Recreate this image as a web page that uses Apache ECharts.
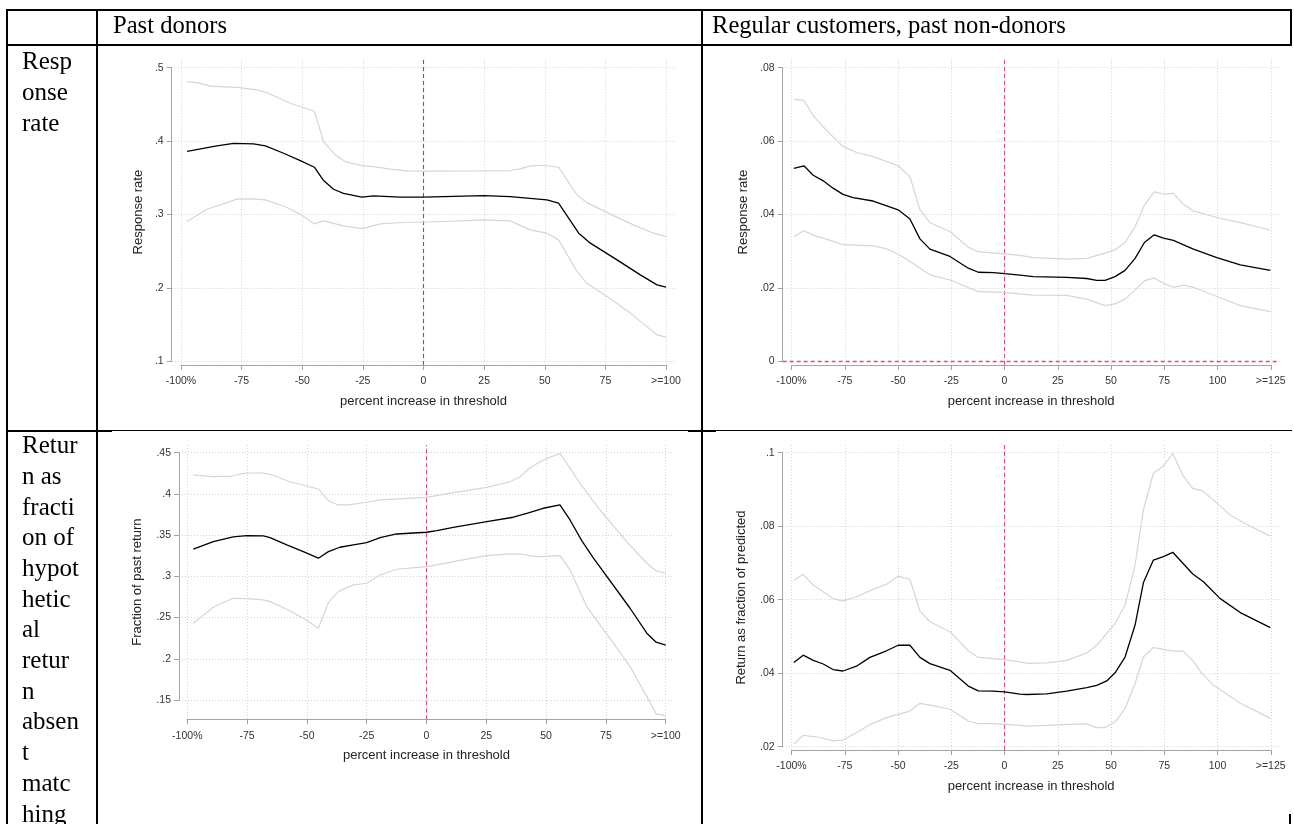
<!DOCTYPE html>
<html><head><meta charset="utf-8">
<script src="https://cdn.jsdelivr.net/npm/echarts@6/dist/echarts.min.js"></script>
<style>html,body{margin:0;padding:0;background:#fff}#c{width:1294px;height:824px}</style>
</head><body><div id="c"></div>
<script>
// ---------- DATA ----------
const colHeaders = ['Past donors', 'Regular customers, past non-donors'];
const rowLabel1 = ['Resp', 'onse', 'rate'];
const rowLabel2 = ['Retur', 'n as', 'fracti', 'on of', 'hypot', 'hetic', 'al', 'retur', 'n', 'absen', 't', 'matc', 'hing'];
const xTitle = 'percent increase in threshold';
const xTickLabels100 = ['-100%', '-75', '-50', '-25', '0', '25', '50', '75', '>=100'];
const xTickLabels125 = ['-100%', '-75', '-50', '-25', '0', '25', '50', '75', '100', '>=125'];
const yTickLabelsP1 = ['.1', '.2', '.3', '.4', '.5'];
const yTickLabelsP2 = ['0', '.02', '.04', '.06', '.08'];
const yTickLabelsP3 = ['.15', '.2', '.25', '.3', '.35', '.4', '.45'];
const yTickLabelsP4 = ['.02', '.04', '.06', '.08', '.1'];
const p2GridLevels = [.02, .04, .06, .08];

// Panel 1: past donors, response rate
const p1MidX = [-97.5,-85.2,-78.3,-70.1,-65.2,-57.7,-50.8,-45,-41.2,-37.1,-33,-25.4,-20.6,-9.6,0,24.8,35.8,50.9,55.7,64,68.8,79.8,89.4,96.3,100];
const p1MidY = [.386,.3935,.397,.3962,.3935,.3835,.3735,.3645,.3463,.3345,.329,.3237,.3254,.3237,.3237,.3259,.3245,.32,.3155,.2747,.2611,.2384,.218,.2044,.2012];
const p1HiX = [-97.5,-93.4,-87.9,-76.9,-68.7,-64.5,-54.9,-45,-41.2,-36.4,-32.2,-25.4,-20.6,-13.7,-6.8,0,24.8,35.8,39.9,44,49.5,55.7,63.3,67.4,75.7,86.6,94.9,100];
const p1HiY = [.481,.4796,.475,.4733,.4697,.466,.4516,.4407,.3993,.3812,.3721,.3667,.3653,.3618,.3595,.3593,.3595,.36,.3622,.3663,.3672,.3645,.3268,.3163,.3027,.286,.2747,.27];
const p1LoX = [-97.5,-89.3,-76.9,-70.1,-65.2,-56.3,-49.4,-45,-41.2,-33,-25.4,-17.8,-6.8,0,24.8,35.8,44,50.9,55.7,63.3,67.4,75.7,85.3,90.8,96.3,100];
const p1LoY = [.2905,.3073,.321,.3214,.32,.31,.2973,.2873,.2914,.2846,.2809,.2873,.2896,.2896,.2928,.2914,.2792,.2747,.2656,.2225,.2067,.1884,.1659,.1509,.1363,.1332];

// Panel 2: regular customers, response rate
const p2MidX = [-98.9,-94.2,-89.8,-85.1,-80.5,-75.8,-71.1,-61.7,-49.9,-44.4,-39.7,-35,-25.6,-17,-12.3,-5.3,0,7.3,13.5,29.2,38.6,43.3,47.2,51.9,56.6,61.3,65.7,70.3,74.6,79.3,88.7,99.7,110.7,124.8];
const p2MidY = [.0526,.0533,.0507,.0492,.0472,.0455,.0446,.0437,.0413,.0388,.0334,.0306,.0286,.0254,.0243,.0242,.0239,.0235,.0231,.0229,.0226,.0221,.0221,.0231,.0248,.0281,.0324,.0345,.0336,.0330,.0306,.0283,.0263,.0248];
const p2HiX = [-98.9,-94.2,-89.8,-83.6,-75.8,-69.5,-61.7,-49.9,-44.4,-39.7,-35,-25.6,-17,-12.3,0,7.3,13.5,29.2,38.6,47.2,51.9,56.6,61.3,65.7,70.3,74.6,79.3,84,88.7,99.7,110.7,124.8];
const p2HiY = [.0714,.0711,.0669,.0630,.0585,.0569,.0558,.0533,.0503,.0413,.0378,.0354,.0311,.0299,.0293,.0289,.0283,.0279,.0281,.0295,.0304,.0324,.0367,.0426,.0462,.0456,.0458,.0428,.0410,.0392,.0378,.0358];
const p2LoX = [-98.9,-94.2,-89,-85.1,-75.8,-61.7,-55.4,-49.9,-44.4,-35,-25.6,-12.3,0,7.3,13.5,29.2,38.6,47.2,51.9,56.6,61.3,65.7,70.3,74.6,79.3,84,88.7,99.7,110.7,124.8];
const p2LoY = [.034,.0356,.0342,.0336,.0318,.0315,.0307,.0292,.0272,.0236,.0222,.0190,.0188,.0184,.0181,.0180,.0170,.0152,.0157,.0170,.0195,.0220,.0227,.0213,.0202,.0208,.0202,.0177,.0152,.0136];

// Panel 3: past donors, fraction of past return
const p3MidX = [-97.5,-89.1,-80.8,-75.2,-68.2,-65.4,-58.4,-51.5,-45.2,-41,-36.2,-30.6,-25,-19.4,-12.5,0,4.3,11.2,25.2,36.3,41.9,48.8,55.8,60,64.9,69.8,85.1,92.1,96,100];
const p3MidY = [.3329,.3421,.3478,.3494,.349,.3469,.3381,.33,.322,.33,.3353,.3381,.3409,.3469,.3514,.3535,.3554,.3595,.3663,.3717,.3765,.3826,.3866,.3684,.3433,.322,.2613,.231,.2201,.2165];
const p3HiX = [-97.5,-89.1,-81,-76.6,-69.6,-65.4,-57.1,-51.5,-45.2,-41,-36.9,-32.7,-25,-19.4,0,11.2,25.2,34.9,39.1,43.3,48.8,55.8,64.2,72.5,83.7,92.1,96,100];
const p3HiY = [.423,.4209,.4217,.425,.4257,.4238,.4148,.4108,.406,.3918,.3866,.3866,.3899,.3927,.3957,.4015,.408,.4148,.4209,.4318,.4411,.4492,.4129,.3805,.3421,.3159,.3069,.3038];
const p3LoX = [-97.5,-89.1,-81,-75.2,-68.2,-65.4,-58.4,-51.5,-45.2,-41,-36.9,-30.6,-25,-19.4,-12.5,0,4.3,11.2,25.2,34.9,40.5,43.3,47.5,55.8,60,67,78.1,85.1,92.1,96,100];
const p3LoY = [.2431,.2625,.2734,.273,.2714,.2693,.2601,.2492,.2371,.2681,.2815,.2896,.2916,.3017,.3086,.3118,.3139,.3178,.3251,.3272,.3268,.3248,.3239,.3251,.3078,.2633,.2189,.1905,.1541,.1332,.1307];

// Panel 4: regular customers, return as fraction of predicted
const p4MidX = [-98.9,-94.5,-89.8,-85.1,-80.5,-75.8,-69.5,-63.2,-55.4,-49.9,-44.4,-39.7,-35,-25.6,-17,-12.3,-5.3,0,7.3,10.4,19.8,29.2,38.6,43.3,48,51.9,56.6,61.3,65.2,69.9,74.6,79,88.4,93.4,101.3,110.7,124.8];
const p4MidY = [.0429,.0449,.0435,.0425,.0410,.0406,.0419,.0443,.0461,.0476,.0476,.0443,.0426,.0408,.0365,.0352,.0351,.0349,.0343,.0342,.0344,.0351,.0361,.0367,.0379,.0401,.0444,.0531,.0646,.0708,.0717,.0729,.0670,.0649,.0603,.0565,.0524];
const p4HiX = [-98.9,-94.5,-89.8,-80.5,-75.8,-69.5,-61.7,-55.4,-49.9,-44.4,-39.7,-35,-25.6,-17,-12.3,0,7.3,10.4,19.8,29.2,38.6,43.3,51.9,56.6,61.3,65.2,69.9,74.6,79,83.7,88.4,92.7,98.2,106,115.4,124.8];
const p4HiY = [.0653,.0669,.0640,.0603,.0596,.0608,.0628,.0642,.0664,.0655,.0569,.054,.0513,.0461,.0443,.0437,.0431,.0427,.0428,.0435,.0455,.0476,.0535,.0585,.0694,.0844,.0944,.0964,.0998,.0939,.0903,.0897,.0871,.0830,.0800,.0773];
const p4LoX = [-98.9,-94.5,-86.7,-80.5,-75.8,-69.5,-63.2,-55.4,-49.9,-44.4,-39.7,-33.5,-25.6,-17,-12.3,-5.3,0,7.3,10.4,19.8,29.2,38.6,43.3,47.2,51.9,56.6,61.3,65.2,69.9,74.6,79,83.7,88.4,92.7,98.2,110.7,124.8];
const p4LoY = [.0207,.0231,.0225,.0216,.0218,.0238,.0260,.0279,.0288,.0297,.0318,.0312,.0302,.0270,.0263,.0263,.0261,.0258,.0256,.0258,.0261,.0262,.0252,.0252,.0267,.0304,.0372,.0444,.0470,.0465,.0460,.0460,.0435,.0399,.0367,.0318,.0277];

// ---------- LAYOUT / STYLE ----------
const SANS = '"Liberation Sans", Arial, sans-serif';
const SERIF = '"Liberation Serif", "Times New Roman", serif';
const AXIS_COLOR = '#a3a3a3';
const GRID_COLOR = '#d2d2d2';
const CI_COLOR = '#d6d6d6';
const PINK = '#e4478f';

const panels = [
  { xL:181, xR:666, yAxisX:171.7, gRight:674, tTop:67.7, tBot:361.5, pTop:59.3, axisY:370,
    xMax:100, yMin:.1, yMax:.5, yInt:.1, xLabels:xTickLabels100, yLabels:yTickLabelsP1,
    yName:'Response rate', yNameGap:35.8, zeroColor:'#9c4a6c', hZero:false,
    mid:[p1MidX,p1MidY], hi:[p1HiX,p1HiY], lo:[p1LoX,p1LoY] },
  { xL:791.5, xR:1270.75, yAxisX:782.7, gRight:1280, tTop:67.7, tBot:361.5, pTop:59.3, axisY:370,
    xMax:125, yMin:0, yMax:.08, yInt:.02, xLabels:xTickLabels125, yLabels:yTickLabelsP2,
    yName:'Response rate', yNameGap:41.3, zeroColor:PINK, hZero:true,
    mid:[p2MidX,p2MidY], hi:[p2HiX,p2HiY], lo:[p2LoX,p2LoY] },
  { xL:187.3, xR:665.7, yAxisX:179, gRight:674, tTop:452.7, tBot:700, pTop:445, axisY:724.3,
    xMax:100, yMin:.15, yMax:.45, yInt:.05, xLabels:xTickLabels100, yLabels:yTickLabelsP3,
    yName:'Fraction of past return', yNameGap:43.6, zeroColor:PINK, hZero:false,
    mid:[p3MidX,p3MidY], hi:[p3HiX,p3HiY], lo:[p3LoX,p3LoY] },
  { xL:791.5, xR:1270.75, yAxisX:782.7, gRight:1279.3, tTop:452.7, tBot:746.7, pTop:445, axisY:755,
    xMax:125, yMin:.02, yMax:.1, yInt:.02, xLabels:xTickLabels125, yLabels:yTickLabelsP4,
    yName:'Return as fraction of predicted', yNameGap:44, zeroColor:PINK, hZero:false,
    mid:[p4MidX,p4MidY], hi:[p4HiX,p4HiY], lo:[p4LoX,p4LoY] }
];

const grids = [], xAxes = [], yAxes = [], series = [];
const zip = (xs, ys) => xs.map((x, i) => [x, ys[i]]);
const AXIS_OFFSET = 5;

panels.forEach(P => {
  const xMin = -100, xInt = 25;
  // grid X (plot region with x axis and vertical grid lines)
  const gX = grids.length;
  grids.push({ left:P.xL, top:P.pTop, width:P.xR - P.xL, height:(P.axisY - AXIS_OFFSET) - P.pTop, outerBoundsMode:'none' });
  xAxes.push({ gridIndex:gX, type:'value', min:xMin, max:P.xMax, interval:xInt, offset:AXIS_OFFSET,
    axisLine:{ show:true, lineStyle:{ color:AXIS_COLOR, width:1 } },
    axisTick:{ show:true, length:5, lineStyle:{ color:AXIS_COLOR, width:1 } },
    axisLabel:{ show:true, margin:6, fontSize:10.5, color:'#333', fontFamily:SANS,
      formatter:v => P.xLabels[Math.round((v - xMin) / xInt)] },
    splitLine:{ show:true, lineStyle:{ color:GRID_COLOR, width:1, type:[1, 2] } },
    name:xTitle, nameLocation:'middle', nameGap:25,
    nameTextStyle:{ fontSize:13, color:'#222', fontFamily:SANS } });
  yAxes.push({ gridIndex:gX, type:'value', min:0, max:1, show:true,
    axisLine:{ show:false }, axisTick:{ show:false }, axisLabel:{ show:false }, splitLine:{ show:false },
    name:P.yName, nameLocation:'middle', nameGap:P.yNameGap,
    nameTextStyle:{ fontSize:13, color:'#222', fontFamily:SANS } });
  // vertical zero line
  series.push({ type:'line', xAxisIndex:gX, yAxisIndex:gX, data:[[0,0],[0,1]], symbol:'none', silent:true, clip:false,
    lineStyle:{ color:P.zeroColor, width:1.1, type:[4,3] }, z:3, animation:false });

  // grid Y (tick range, y axis + horizontal grid lines)
  const gY = grids.length;
  grids.push({ left:P.yAxisX, top:P.tTop, width:P.gRight - P.yAxisX, height:P.tBot - P.tTop, outerBoundsMode:'none' });
  xAxes.push({ gridIndex:gY, type:'value', min:0, max:1, show:false });
  yAxes.push({ gridIndex:gY, type:'value', min:P.yMin, max:P.yMax, interval:P.yInt,
    axisLine:{ show:true, lineStyle:{ color:AXIS_COLOR, width:1 } },
    axisTick:{ show:true, length:5, lineStyle:{ color:AXIS_COLOR, width:1 } },
    axisLabel:{ show:true, margin:8, fontSize:10.5, color:'#333', fontFamily:SANS,
      formatter:v => P.yLabels[Math.round((v - P.yMin) / P.yInt)] },
    splitLine:{ show:!P.hZero, lineStyle:{ color:GRID_COLOR, width:1, type:[1, 2] } } });
  if (P.hZero) {
    // horizontal grid lines except at zero, plus the dashed pink zero line
    series.push({ type:'line', xAxisIndex:gY, yAxisIndex:gY, data:[], symbol:'none', silent:true,
      markLine:{ silent:true, symbol:['none','none'], label:{ show:false }, animation:false,
        lineStyle:{ color:GRID_COLOR, width:1, type:[1, 2] },
        data:p2GridLevels.map(v => ({ yAxis:v })) }, z:1, animation:false });
    series.push({ type:'line', xAxisIndex:gY, yAxisIndex:gY, data:[], symbol:'none', silent:true,
      markLine:{ silent:true, symbol:['none','none'], label:{ show:false }, animation:false,
        lineStyle:{ color:P.zeroColor, width:1.3, type:[4, 3] },
        data:[{ yAxis:0 }] }, z:6, animation:false });
  }

  // grid D (data)
  const gD = grids.length;
  grids.push({ left:P.xL, top:P.tTop, width:P.xR - P.xL, height:P.tBot - P.tTop, outerBoundsMode:'none' });
  xAxes.push({ gridIndex:gD, type:'value', min:xMin, max:P.xMax, show:false });
  yAxes.push({ gridIndex:gD, type:'value', min:P.yMin, max:P.yMax, show:false });
  const mk = (pair, color, w, z) => ({ type:'line', xAxisIndex:gD, yAxisIndex:gD, data:zip(pair[0], pair[1]),
    symbol:'none', showSymbol:false, clip:false, silent:true, lineStyle:{ color, width:w }, z, animation:false });
  series.push(mk(P.hi, CI_COLOR, 1.2, 4));
  series.push(mk(P.lo, CI_COLOR, 1.2, 4));
  series.push(mk(P.mid, '#000', 1.3, 5));
});

// ---------- TABLE (graphic) ----------
const G = [];
const rect = (x, y, w, h) => G.push({ type:'rect', shape:{ x, y, width:w, height:h }, style:{ fill:'#000' }, silent:true, z:100 });
rect(6, 9, 1286, 2);      // top border
rect(6, 44, 1286, 2);     // header bottom
rect(6, 9, 2, 815);       // left border
rect(96, 9, 2, 815);      // label column divider
rect(701, 9, 2, 815);     // middle divider
rect(1290, 9, 2, 37);     // header right border
rect(1289, 814, 2, 10);   // bottom-right stub
rect(6, 430, 106, 2);     // row boundary label col
rect(112, 430, 576, 1);   // row boundary thin
rect(688, 430, 28, 2);
rect(716, 430, 576, 1);

const textEl = (t, x, baseline, size) => G.push({ type:'text', x, y:baseline - 0.3375 * size, silent:true, z:100,
  style:{ text:t, fill:'#000', font:size + 'px ' + SERIF, textAlign:'left', textVerticalAlign:'middle', verticalAlign:'middle' } });
textEl(colHeaders[0], 113, 35, 24.6);
textEl(colHeaders[1], 712, 35, 24.6);
rowLabel1.forEach((t, i) => textEl(t, 22, 71 + i * 30.7, 25));
rowLabel2.forEach((t, i) => textEl(t, 22, 455 + i * 30.7, 25));

const chart = echarts.init(document.getElementById('c'), null, { renderer:'canvas' });
chart.setOption({
  animation:false,
  backgroundColor:'#fff',
  grid:grids, xAxis:xAxes, yAxis:yAxes, series:series, graphic:G
});
</script></body></html>
